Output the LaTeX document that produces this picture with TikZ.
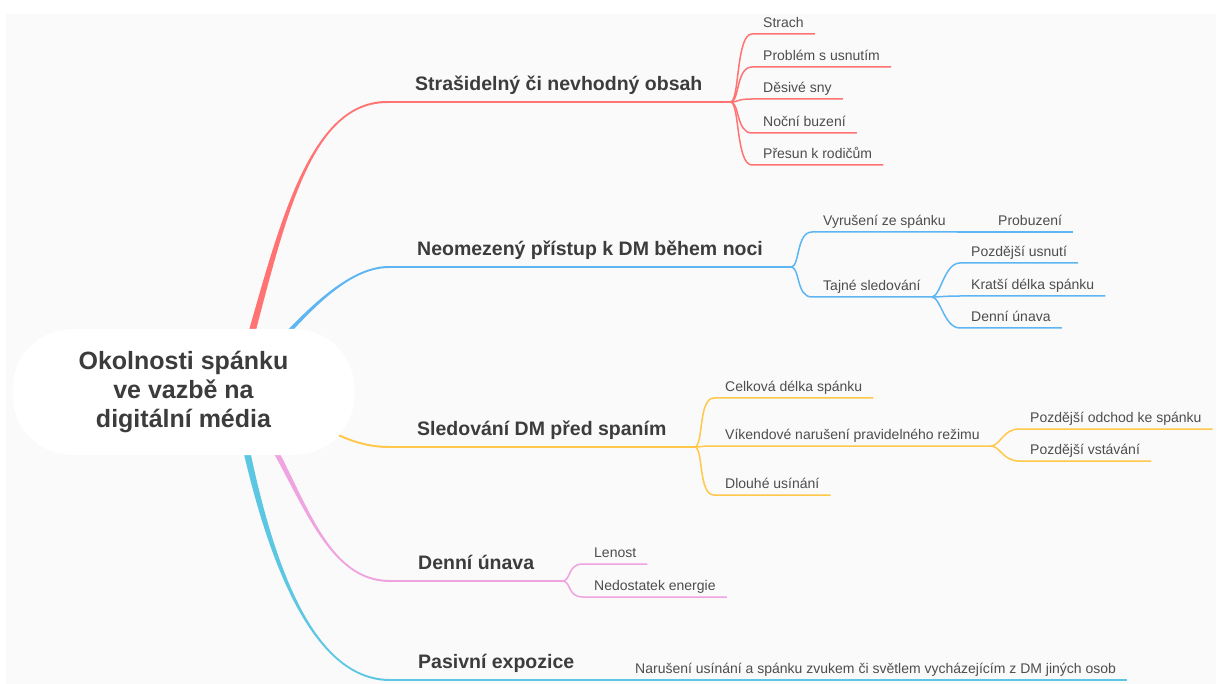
\documentclass[tikz,border=0pt]{standalone}
\usepackage{fontspec}
\setmainfont{Liberation Sans}
\usepackage{xcolor}

\definecolor{bgc}{HTML}{FAFAFA}
\definecolor{txt}{HTML}{3C3C3C}
\definecolor{txtleaf}{HTML}{4D4D4D}
\definecolor{redc}{HTML}{FF7373}
\definecolor{bluec}{HTML}{5DB5F2}
\definecolor{yellowc}{HTML}{FFC84A}
\definecolor{pinkc}{HTML}{EFA3E0}
\definecolor{cyanc}{HTML}{5CC7E2}

% tapered main branch: colour, from, control 1, control 2, to, end side, other side
\newcommand{\limb}[7]{%
  \fill[#1] ([xshift=-4pt]#2) .. controls ([xshift=-3pt]#3) and ([yshift=#6pt]#4) .. ([yshift=#6pt]#5)
    -- ([yshift=#7pt]#5) .. controls ([yshift=#7pt]#4) and ([xshift=3pt]#3) .. ([xshift=4pt]#2) -- cycle;}

\begin{document}
\begin{tikzpicture}[x=1pt, y=-1pt,
topic/.style={anchor=south west,
inner xsep=28pt,
inner ysep=11pt,
text depth=0pt,
text=txt,
font=\bfseries\fontsize{19.5}{22}\selectfont},
leaf/.style={anchor=south west,
inner xsep=11pt,
inner ysep=6.5pt,
text depth=0pt,
text=txtleaf,
font=\fontsize{14}{16}\selectfont},
centre/.style={fill=white,
rounded corners=60pt,
minimum width=342pt,
minimum height=126pt,
align=center,
text=txt,
font=\bfseries\fontsize{25}{29}\selectfont},
bar/.style={line width=2pt},
twig/.style={line width=1.5pt}
]

\useasboundingbox (0,0) rectangle (1218,684);
\fill[bgc] (6,14) rectangle (1216,684);

\coordinate (root) at (235,392);

\node[topic] (t1) at (387,102) {Strašidelný či nevhodný obsah};
\node[topic] (t2) at (389,267) {Neomezený přístup k DM během noci};
\node[topic] (t3) at (389,447) {Sledování DM před spaním};
\node[topic] (t4) at (390,581) {Denní únava};
\node[topic] (t5) at (390,680) {Pasivní expozice};

% main branches
\limb{redc}{root}{276,255}{300,102}{t1.south west}{1}{-1}
\limb{bluec}{root}{290,330}{340,267}{t2.south west}{1}{-1}
\limb{yellowc}{root}{300,400}{330,447}{t3.south west}{-1}{1}
\limb{pinkc}{root}{296,455}{312,581}{t4.south west}{-1}{1}
\limb{cyanc}{root}{258,520}{300,680}{t5.south west}{-1}{1}

\draw[bar, redc] (t1.south west) -- (t1.south east);
\draw[bar, bluec] (t2.south west) -- (t2.south east);
\draw[bar, yellowc] (t3.south west) -- (t3.south east);
\draw[bar, pinkc] (t4.south west) -- (t4.south east);
\draw[bar, cyanc] (t5.south west) -- (t5.south east);

\node[centre] (hub) at (183.5,392) {Okolnosti spánku\\ve vazbě na\\digitální média};

% red leaves
\node[leaf] (r1) at (752,34) {Strach};
\node[leaf] (r2) at (752,67) {Problém s usnutím};
\node[leaf] (r3) at (752,99) {Děsivé sny};
\node[leaf] (r4) at (752,133) {Noční buzení};
\node[leaf] (r5) at (752,165) {Přesun k rodičům};
\foreach \n in {r1,r2,r3,r4,r5}
  \draw[twig, redc] (t1.south east) .. controls +(9,0) and +(-16,0) .. (\n.south west) -- (\n.south east);

% blue leaves
\node[leaf] (b1) at (812,232) {Vyrušení ze spánku};
\node[leaf] (b11) at (987,232) {Probuzení};
\node[leaf] (b2) at (812,297) {Tajné sledování};
\node[leaf] (b21) at (960,263) {Pozdější usnutí};
\node[leaf] (b22) at (960,296) {Kratší délka spánku};
\node[leaf] (b23) at (960,328) {Denní únava};
\foreach \n in {b1,b2}
  \draw[twig, bluec] (t2.south east) .. controls +(9,0) and +(-16,0) .. (\n.south west) -- (\n.south east);
\draw[twig, bluec] (b1.south east) -- (b11.south west) -- (b11.south east);
\foreach \n in {b21,b22,b23}
  \draw[twig, bluec] (b2.south east) .. controls +(9,0) and +(-16,0) .. (\n.south west) -- (\n.south east);

% yellow leaves
\node[leaf] (y1) at (714,398) {Celková délka spánku};
\node[leaf] (y2) at (714,446) {Víkendové narušení pravidelného režimu};
\node[leaf] (y3) at (714,495) {Dlouhé usínání};
\node[leaf] (y21) at (1019,429) {Pozdější odchod ke spánku};
\node[leaf] (y22) at (1019,461) {Pozdější vstávání};
\foreach \n in {y1,y2,y3}
  \draw[twig, yellowc] (t3.south east) .. controls +(9,0) and +(-16,0) .. (\n.south west) -- (\n.south east);
\foreach \n in {y21,y22}
  \draw[twig, yellowc] (y2.south east) .. controls +(9,0) and +(-16,0) .. (\n.south west) -- (\n.south east);

% pink leaves
\node[leaf] (p1) at (583,564) {Lenost};
\node[leaf] (p2) at (583,597) {Nedostatek energie};
\foreach \n in {p1,p2}
  \draw[twig, pinkc] (t4.south east) .. controls +(9,0) and +(-16,0) .. (\n.south west) -- (\n.south east);

% cyan leaf
\node[leaf] (c1) at (624,680) {Narušení usínání a spánku zvukem či světlem vycházejícím z DM jiných osob};
\draw[twig, cyanc] (t5.south east) -- (c1.south west) -- (c1.south east);

\end{tikzpicture}
\end{document}
